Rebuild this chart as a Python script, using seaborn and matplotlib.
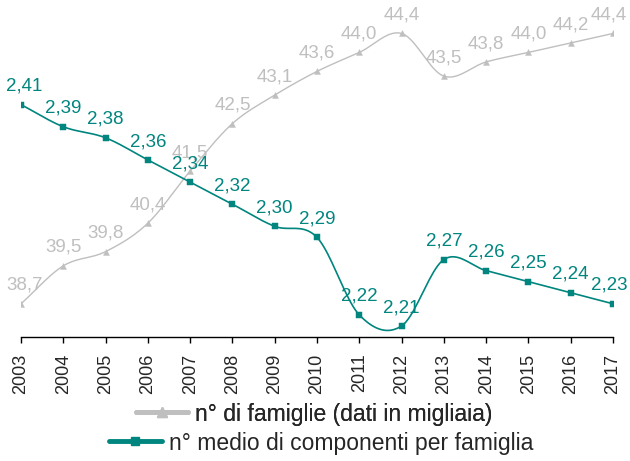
import numpy as np
import pandas as pd
import matplotlib.pyplot as plt
import seaborn as sns
from matplotlib.lines import Line2D

# data
anni = list(range(2003, 2018))
famiglie = [38.7, 39.5, 39.8, 40.4, 41.5, 42.5, 43.1, 43.6, 44.0, 44.4,
            43.5, 43.8, 44.0, 44.2, 44.4]
componenti = [2.41, 2.39, 2.38, 2.36, 2.34, 2.32, 2.30, 2.29, 2.22, 2.21,
              2.27, 2.26, 2.25, 2.24, 2.23]

GRIGIO = '#BFBFBF'
VERDE = '#00857F'


def smooth(x, y, n=20):
    # Catmull-Rom curve through the points (like Excel "smoothed line")
    x = np.asarray(x, float)
    y = np.asarray(y, float)
    px = np.concatenate([[2 * x[0] - x[1]], x, [2 * x[-1] - x[-2]]])
    py = np.concatenate([[2 * y[0] - y[1]], y, [2 * y[-1] - y[-2]]])
    xs, ys = [], []
    t = np.linspace(0, 1, n, endpoint=False)
    for i in range(1, len(px) - 2):
        for arr, out in ((px, xs), (py, ys)):
            p0, p1, p2, p3 = arr[i - 1], arr[i], arr[i + 1], arr[i + 2]
            out.extend(0.5 * (2 * p1 + (-p0 + p2) * t
                              + (2 * p0 - 5 * p1 + 4 * p2 - p3) * t ** 2
                              + (-p0 + 3 * p1 - 3 * p2 + p3) * t ** 3))
    xs.append(x[-1])
    ys.append(y[-1])
    return np.array(xs), np.array(ys)


def dx(i):
    # small horizontal nudge of the first / last label
    if i == 0:
        return 2.5
    if i == len(anni) - 1:
        return -3
    return 0


sns.set_style('white')
plt.rcParams['font.family'] = ['Liberation Sans', 'DejaVu Sans']

fig = plt.figure(figsize=(6.3, 4.61), dpi=100)
ax = fig.add_axes([21 / 630, 124 / 461, 592 / 630, 332 / 461])
ax2 = ax.twinx()

df = pd.DataFrame({'anno': anni, 'famiglie': famiglie, 'componenti': componenti})

# famiglie (grey, left hidden axis)
sx, sy = smooth(df['anno'], df['famiglie'])
ax.plot(sx, sy, color=GRIGIO, lw=1)
sns.scatterplot(data=df, x='anno', y='famiglie', ax=ax, marker='^', s=18,
                color=GRIGIO, edgecolor=GRIGIO, zorder=3)
for i, (a, v) in enumerate(zip(anni, famiglie)):
    ax.annotate(f'{v:.1f}'.replace('.', ','), (a, v), xytext=(dx(i), 10),
                textcoords='offset points', ha='center', va='baseline',
                color=GRIGIO, fontsize=13.5)

# componenti (teal, right hidden axis)
sx, sy = smooth(df['anno'], df['componenti'])
ax2.plot(sx, sy, color=VERDE, lw=1.2)
sns.scatterplot(data=df, x='anno', y='componenti', ax=ax2, marker='s', s=16,
                color=VERDE, edgecolor=VERDE, zorder=3)
for i, (a, v) in enumerate(zip(anni, componenti)):
    ax2.annotate(f'{v:.2f}'.replace('.', ','), (a, v), xytext=(dx(i), 10),
                 textcoords='offset points', ha='center', va='baseline',
                 color=VERDE, fontsize=13.5)

ax.set_ylim(38, 45)
ax2.set_ylim(2.2, 2.5)
ax.set_xlim(2003, 2017)
ax.set_xticks(anni)
ax.set_xticklabels([str(a) for a in anni], rotation=90, fontsize=13)
ax.set_xlabel('')
ax.set_ylabel('')
ax2.set_ylabel('')
ax.set_yticks([])
ax2.set_yticks([])
for a in (ax, ax2):
    for s in ('top', 'left', 'right', 'bottom'):
        a.spines[s].set_visible(False)
ax.spines['bottom'].set_visible(True)
ax.spines['bottom'].set_color('black')
ax.spines['bottom'].set_linewidth(1)
ax.tick_params(axis='x', direction='out', length=4, width=1, color='black',
               bottom=True, pad=8)
ax2.set_zorder(ax.get_zorder() + 1)
ax2.patch.set_visible(False)

# legend: two rows, each centred
h1 = Line2D([], [], color=GRIGIO, lw=3.5, marker='^', markersize=7)
h2 = Line2D([], [], color=VERDE, lw=3.5, marker='s', markersize=6)
opts = dict(loc='center', frameon=False, fontsize=16.5, handlelength=2.3,
            handletextpad=0.3, borderpad=0, borderaxespad=0)
leg1 = fig.legend([h1], ['n° di famiglie (dati in migliaia)'],
                  bbox_to_anchor=(314 / 630, 1 - 414 / 461), **opts)
leg2 = fig.legend([h2], ['n° medio di componenti per famiglia'],
                  bbox_to_anchor=(321 / 630, 1 - 443 / 461), **opts)
fig.add_artist(leg1)

fig.savefig('out.png', dpi=100)
